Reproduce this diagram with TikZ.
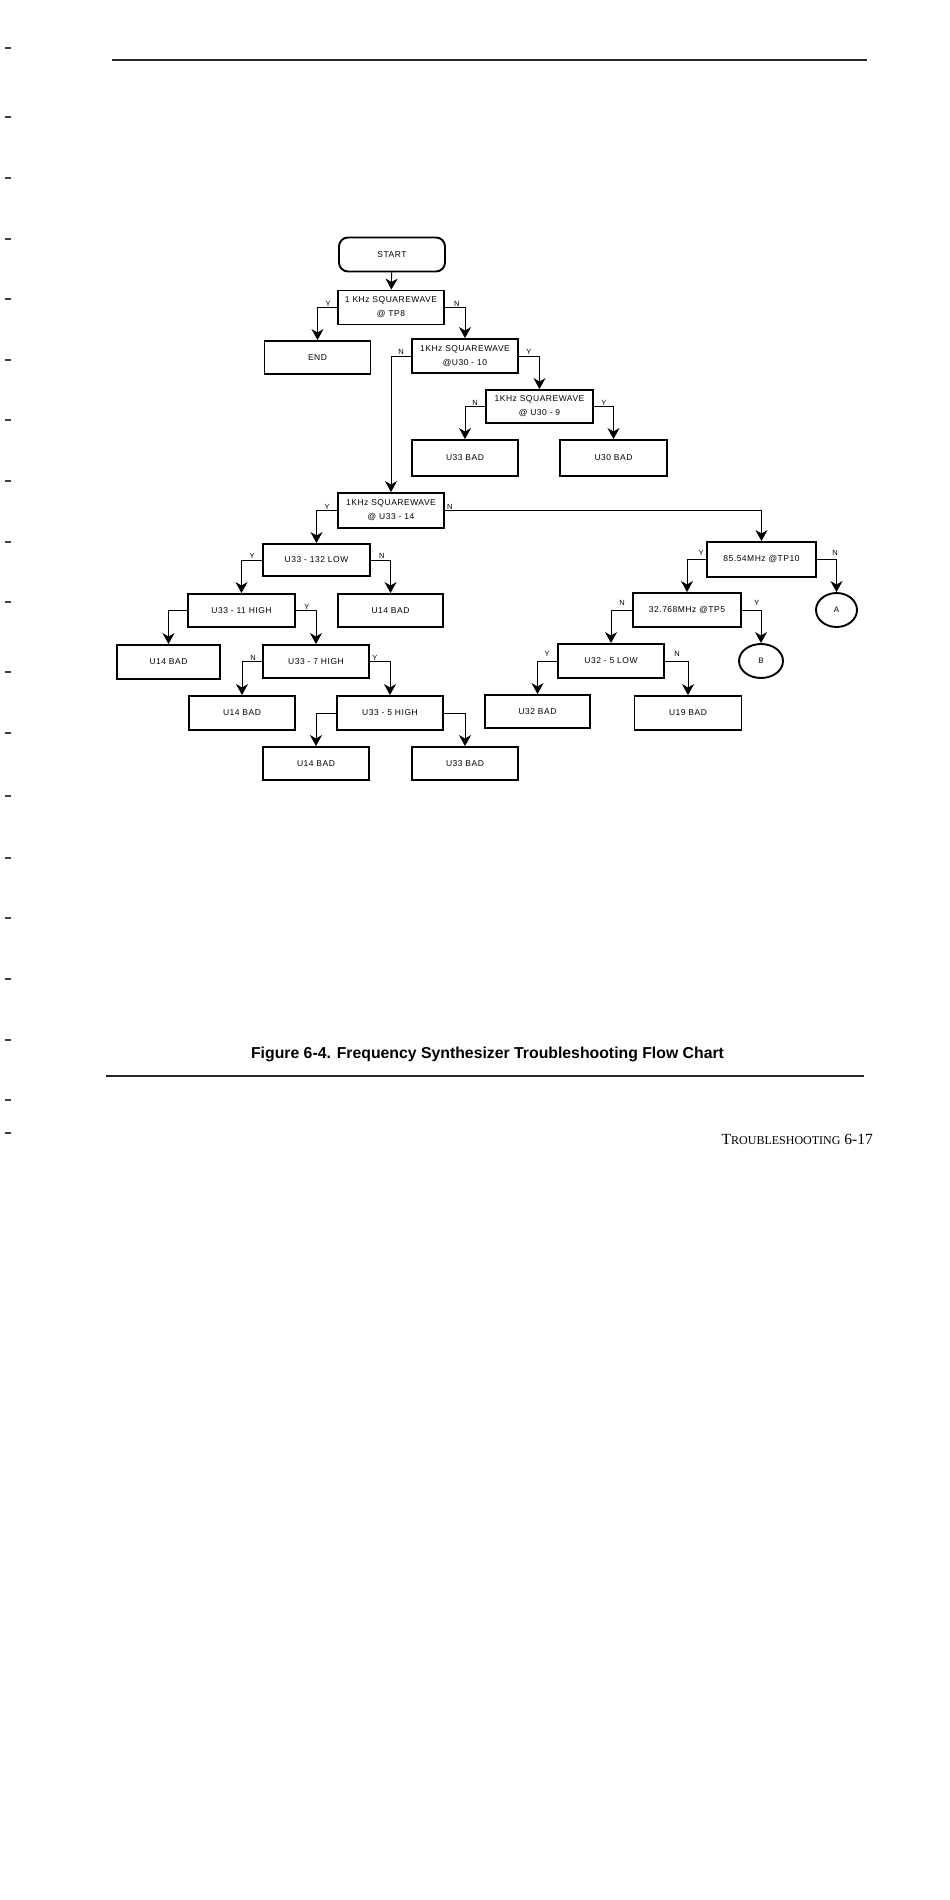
\documentclass[tikz,border=0pt]{standalone}
\usepackage{fontspec}
\setmainfont{Liberation Serif}
\newfontfamily\chartfont[LetterSpace=6]{Liberation Sans}
\newfontfamily\capfont{Liberation Sans}
\usetikzlibrary{arrows.meta,shapes.geometric}
\begin{document}
\begin{tikzpicture}[x=1pt,y=-1pt,
  box/.style={draw, line width=1.9pt, minimum width=106pt, minimum height=34pt, inner sep=0pt, align=center, font=\chartfont\fontsize{8.5}{14}\selectfont},
  rbox/.style={box, rounded corners=9pt},
  circ/.style={draw, ellipse, line width=1.9pt, minimum width=42pt, minimum height=34pt, inner sep=0pt, font=\chartfont\fontsize{8}{8}\selectfont},
  conn/.style={line width=0.9pt, -{Stealth[length=11pt,width=12pt,inset=3.5pt]}},
  lbl/.style={font=\capfont\fontsize{7.5}{7.5}\selectfont, inner sep=0pt, anchor=south},
  rule/.style={line width=1.8pt, draw=black!85},
  margintick/.style={line width=1.8pt, draw=black!75}
]
\fill[white] (0,0) rectangle (950,1900);
\useasboundingbox (0,0) rectangle (950,1900);

% page rules
\draw[rule] (112,60) -- (867,60);
\draw[rule] (106,1076) -- (864,1076);

% margin ticks
\foreach \yy in {48,117,178,239,299,360,420,481,542,602,672,733,796,858,918,979,1040,1100,1133}
  \draw[margintick] (5,\yy) -- (11,\yy);

% nodes
\node[rbox] (start) at (392,254.5) {START};
\node[box] (tp8) at (391,307.5) {1 KHz SQUAREWAVE\\@ TP8};
\node[box, minimum height=33pt] (endn) at (317.5,357.5) {END};
\node[box] (u3010) at (465,356) {1KHz SQUAREWAVE\\@U30 - 10};
\node[box, minimum height=33pt, minimum width=107pt] (u309) at (539.5,406.5) {1KHz SQUAREWAVE\\@ U30 - 9};
\node[box, minimum height=36pt] (u33bad1) at (465,458) {U33 BAD};
\node[box, minimum height=36pt, minimum width=107pt] (u30bad) at (613.5,458) {U30 BAD};
\node[box, minimum height=35pt] (u3314) at (391,510.5) {1KHz SQUAREWAVE\\@ U33 - 14};
\node[box, minimum height=32pt, minimum width=107pt] (u33132) at (316.5,560) {U33 - 132 LOW};
\node[box, minimum height=33pt, minimum width=105pt] (u14bad1) at (390.5,610.5) {U14 BAD};
\node[box, minimum height=33pt, minimum width=107pt] (u3311) at (241.5,610.5) {U33 - 11 HIGH};
\node[box, minimum width=103pt] (u14bad2) at (168.5,662) {U14 BAD};
\node[box, minimum height=33pt] (u337) at (316,661.5) {U33 - 7 HIGH};
\node[box] (u14bad3) at (242,713) {U14 BAD};
\node[box] (u335) at (390,713) {U33 - 5 HIGH};
\node[box, minimum height=33pt] (u14bad4) at (316,763.5) {U14 BAD};
\node[box, minimum height=33pt] (u33bad2) at (465,763.5) {U33 BAD};
\node[box, minimum width=109pt, minimum height=35pt] (f8554) at (761.5,559.5) {85.54MHz @TP10};
\node[circ, minimum width=41pt] (circA) at (836.5,610) {A};
\node[box, minimum width=108pt] (f32768) at (687,610) {32.768MHz @TP5};
\node[circ, minimum width=44pt] (circB) at (761,661) {B};
\node[box] (u325) at (611,661) {U32 - 5 LOW};
\node[box, minimum width=105pt, minimum height=33pt] (u32bad) at (537.5,711.5) {U32 BAD};
\node[box, minimum width=107pt] (u19bad) at (688,713) {U19 BAD};

% connectors
\draw[conn] (start) -- (tp8);
\draw[conn] (tp8.west) -| (endn.north);
\draw[conn] (tp8.east) -| (u3010.north);
\draw[conn] (u3010.west) -| (u3314.north);
\draw[conn] (u3010.east) -| (u309.north);
\draw[conn] (u309.west) -| (u33bad1.north);
\draw[conn] (u309.east) -| (u30bad.north);
\draw[conn] (u3314.west) -| (u33132.north);
\draw[conn] (u3314.east) -| (f8554.north);
\draw[conn] (u33132.west) -| (u3311.north);
\draw[conn] (u33132.east) -| (u14bad1.north);
\draw[conn] (u3311.west) -| (u14bad2.north);
\draw[conn] (u3311.east) -| (u337.north);
\draw[conn] (u337.west) -| (u14bad3.north);
\draw[conn] (u337.east) -| (u335.north);
\draw[conn] (u335.west) -| (u14bad4.north);
\draw[conn] (u335.east) -| (u33bad2.north);
\draw[conn] (f8554.west) -| (f32768.north);
\draw[conn] (f8554.east) -| (circA.north);
\draw[conn] (f32768.west) -| (u325.north);
\draw[conn] (f32768.east) -| (circB.north);
\draw[conn] (u325.west) -| (u32bad.north);
\draw[conn] (u325.east) -| (u19bad.north);

% branch labels
\path (tp8.west) ++(-9,-1) node[lbl] {Y};
\path (tp8.east) ++(12,-1) node[lbl] {N};
\path (u3010.west) ++(-10,-1) node[lbl] {N};
\path (u3010.east) ++(10,-1) node[lbl] {Y};
\path (u309.west) ++(-10,-1) node[lbl] {N};
\path (u309.east) ++(10,-1) node[lbl] {Y};
\path (u3314.west) ++(-10,-1) node[lbl] {Y};
\path (u3314.east) ++(5,-1) node[lbl] {N};
\path (u33132.west) ++(-10,-1) node[lbl] {Y};
\path (u33132.east) ++(11,-1) node[lbl] {N};
\path (u3311.east) ++(11,-1) node[lbl] {Y};
\path (u337.west) ++(-9,-1) node[lbl] {N};
\path (u337.east) ++(5,-1) node[lbl] {Y};
\path (f8554.west) ++(-5,-4) node[lbl] {Y};
\path (f8554.east) ++(18,-4) node[lbl] {N};
\path (f32768.west) ++(-10,-4) node[lbl] {N};
\path (f32768.east) ++(15,-4) node[lbl] {Y};
\path (u325.west) ++(-10,-4) node[lbl] {Y};
\path (u325.east) ++(12,-4) node[lbl] {N};

% caption and footer
\node[font=\capfont\bfseries\fontsize{15.8}{15.8}\selectfont, inner sep=0pt] (caption) at (487.5,1054) {Figure 6-4. Frequency Synthesizer Troubleshooting Flow Chart};
\node[anchor=base east, inner sep=0pt] (footer) at (873,1144) {{\fontsize{15.5}{15.5}\selectfont T}{\fontsize{12}{12}\selectfont ROUBLESHOOTING}\fontsize{15.5}{15.5}\selectfont\ 6-17};
\end{tikzpicture}
\end{document}
